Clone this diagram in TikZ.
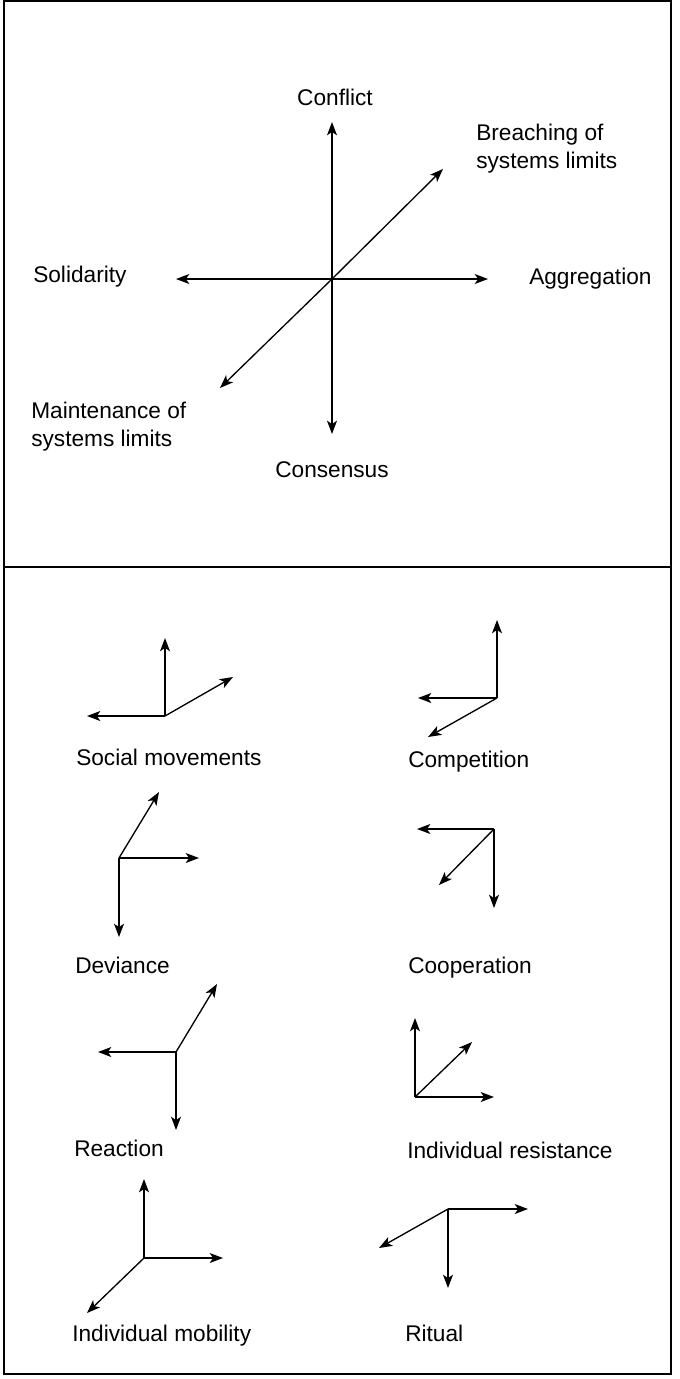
\documentclass[tikz,border=0pt]{standalone}
\usepackage{fontspec}
\setmainfont{Liberation Sans}
\usetikzlibrary{arrows.meta}

\begin{document}
\begin{tikzpicture}[x=0.75pt, y=-0.75pt,
  lbl/.style={font=\fontsize{17}{21}\selectfont, inner sep=0pt, anchor=base west,
              align=left, text=black},
  arr/.style={-{Stealth[length=10pt,width=7.5pt,inset=2.6pt]}, draw=black, line width=1pt},
  frame/.style={draw=black, line width=1.3pt},
]
\useasboundingbox (0,0) rectangle (680,1379);
\draw[frame] (4,1) rectangle (671,1374);
\draw[frame] (4,567) -- (671,567);

% the four dimensions
\coordinate (O) at (332,279);
\coordinate (conf) at (332,122);
\coordinate (cons) at (332,434);
\coordinate (soli) at (176,279);
\coordinate (aggr) at (488,279);
\coordinate (brea) at (443,169);
\coordinate (main) at (220,388);
\draw[arr] (O) -- (conf);
\draw[arr] (O) -- (cons);
\draw[arr] (O) -- (soli);
\draw[arr] (O) -- (aggr);
\draw[arr] (O) -- (brea);
\draw[arr] (O) -- (main);
\node[lbl, anchor=base] (Lconf) at (335,105) {Conflict};
\node[lbl, anchor=base] (Lcons) at (332,477) {Consensus};
\node[lbl] (Lsoli) at (33,282) {Solidarity};
\node[lbl] (Laggr) at (529,284) {Aggregation};
\node[lbl] (Lbrea) at (476,168) {Breaching of\\systems limits};
\node[lbl] (Lmain) at (31,446) {Maintenance of\\systems limits};

% social movements
\coordinate (sm) at (165,716);
\coordinate (smA) at (165,638);
\coordinate (smB) at (87,716);
\coordinate (smC) at (233,677);
\draw[arr] (sm) -- (smA);
\draw[arr] (sm) -- (smB);
\draw[arr] (sm) -- (smC);
\node[lbl] (Lsm) at (76,765) {Social movements};

% competition
\coordinate (cp) at (497,698);
\coordinate (cpA) at (497,620);
\coordinate (cpB) at (418,698);
\coordinate (cpC) at (428,737);
\draw[arr] (cp) -- (cpA);
\draw[arr] (cp) -- (cpB);
\draw[arr] (cp) -- (cpC);
\node[lbl] (Lcp) at (408,767) {Competition};

% deviance
\coordinate (dv) at (119,858);
\coordinate (dvA) at (159,792);
\coordinate (dvB) at (199,858);
\coordinate (dvC) at (119,937);
\draw[arr] (dv) -- (dvA);
\draw[arr] (dv) -- (dvB);
\draw[arr] (dv) -- (dvC);
\node[lbl] (Ldv) at (75,973) {Deviance};

% cooperation
\coordinate (co) at (494,829);
\coordinate (coA) at (417,829);
\coordinate (coB) at (494,908);
\coordinate (coC) at (439,885);
\draw[arr] (co) -- (coA);
\draw[arr] (co) -- (coB);
\draw[arr] (co) -- (coC);
\node[lbl] (Lco) at (408,973) {Cooperation};

% reaction
\coordinate (re) at (176,1052);
\coordinate (reA) at (217,984);
\coordinate (reB) at (98,1052);
\coordinate (reC) at (176,1130);
\draw[arr] (re) -- (reA);
\draw[arr] (re) -- (reB);
\draw[arr] (re) -- (reC);
\node[lbl] (Lre) at (74,1156) {Reaction};

% individual resistance
\coordinate (ir) at (415,1097);
\coordinate (irA) at (415,1018);
\coordinate (irB) at (472,1042);
\coordinate (irC) at (494,1097);
\draw[arr] (ir) -- (irA);
\draw[arr] (ir) -- (irB);
\draw[arr] (ir) -- (irC);
\node[lbl] (Lir) at (407,1158) {Individual resistance};

% individual mobility
\coordinate (im) at (144,1258);
\coordinate (imA) at (144,1179);
\coordinate (imB) at (223,1258);
\coordinate (imC) at (87,1313);
\draw[arr] (im) -- (imA);
\draw[arr] (im) -- (imB);
\draw[arr] (im) -- (imC);
\node[lbl] (Lim) at (72,1341) {Individual mobility};

% ritual
\coordinate (ri) at (448,1209);
\coordinate (riA) at (528,1209);
\coordinate (riB) at (448,1288);
\coordinate (riC) at (379,1248);
\draw[arr] (ri) -- (riA);
\draw[arr] (ri) -- (riB);
\draw[arr] (ri) -- (riC);
\node[lbl] (Lri) at (405,1341) {Ritual};
\end{tikzpicture}
\end{document}
